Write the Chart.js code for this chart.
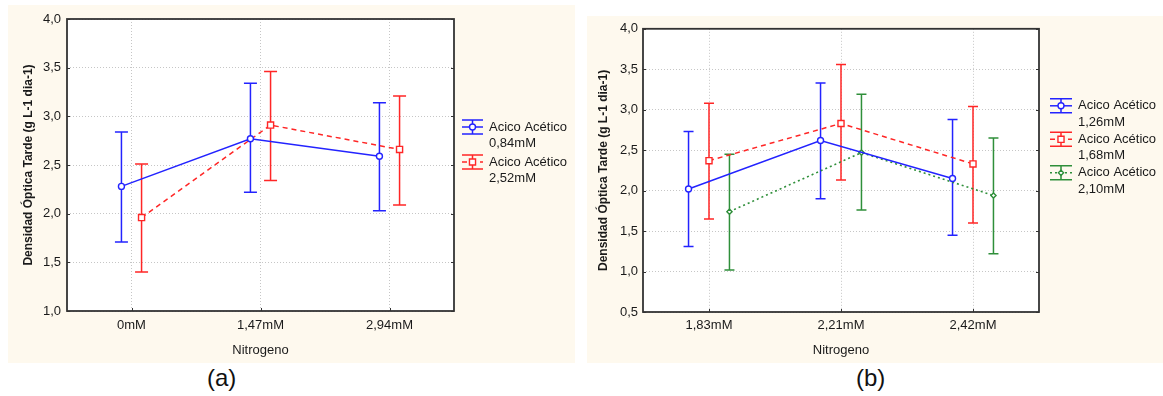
<!DOCTYPE html>
<html>
<head>
<meta charset="utf-8">
<script src="https://cdn.jsdelivr.net/npm/chart.js@4/dist/chart.umd.min.js"></script>
<style>
  body { margin: 0; background: #fff; width: 1163px; height: 396px; position: relative; overflow: hidden; font-family: "Liberation Sans", Arial, sans-serif; }
  .panel { position: absolute; background: #fef9ee; }
  .tag { position: absolute; font-size: 24px; color: #111; line-height: 28px; }
</style>
</head>
<body>
<div class="panel" style="left:8px;top:5px;width:567px;height:358px"><canvas id="chartA"></canvas></div>
<div class="panel" style="left:587px;top:16px;width:576px;height:347px"><canvas id="chartB"></canvas></div>
<div class="tag" style="left:207px;top:364px">(a)</div>
<div class="tag" style="left:856px;top:364px">(b)</div>
<script>
// panel (a)
var catsA = ['0mM', '1,47mM', '2,94mM'];
var labelA084 = ['Acico Acético', '0,84mM'];
var meanA084 = [2.28, 2.77, 2.59];
var lowA084 = [1.71, 2.22, 2.03];
var highA084 = [2.84, 3.34, 3.14];
var labelA252 = ['Acico Acético', '2,52mM'];
var meanA252 = [1.96, 2.91, 2.66];
var lowA252 = [1.40, 2.34, 2.09];
var highA252 = [2.51, 3.46, 3.21];

// panel (b)
var catsB = ['1,83mM', '2,21mM', '2,42mM'];
var labelB126 = ['Acico Acético', '1,26mM'];
var meanB126 = [2.02, 2.62, 2.15];
var lowB126 = [1.31, 1.90, 1.45];
var highB126 = [2.73, 3.33, 2.88];
var labelB168 = ['Acico Acético', '1,68mM'];
var meanB168 = [2.37, 2.83, 2.33];
var lowB168 = [1.65, 2.13, 1.60];
var highB168 = [3.08, 3.56, 3.04];
var labelB210 = ['Acico Acético', '2,10mM'];
var meanB210 = [1.74, 2.47, 1.94];
var lowB210 = [1.02, 1.76, 1.22];
var highB210 = [2.45, 3.19, 2.65];

var yTitle = 'Densidad Óptica Tarde (g L-1 dia-1)';
var xTitle = 'Nitrogeno';

var BLUE = '#2323ff', RED = '#ff2626', GREEN = '#2f8f3a';
var FONT = '"Liberation Sans", Arial, sans-serif';
Chart.defaults.font.family = FONT;
Chart.defaults.font.size = 13;
Chart.defaults.color = '#1a1a1a';

function comma(v) { return v.toFixed(1).replace('.', ','); }

// white plot background + dark frame with small inward ticks
var framePlugin = {
  id: 'frame',
  beforeDraw: function(chart) {
    var a = chart.chartArea, ctx = chart.ctx;
    ctx.save();
    ctx.fillStyle = '#fff';
    ctx.fillRect(a.left, a.top, a.right - a.left, a.bottom - a.top);
    ctx.restore();
  },
  afterDraw: function(chart) {
    var a = chart.chartArea, ctx = chart.ctx;
    ctx.save();
    ctx.strokeStyle = '#333';
    ctx.lineWidth = 1.8;
    ctx.strokeRect(a.left, a.top, a.right - a.left, a.bottom - a.top);
    ctx.lineWidth = 1;
    ctx.beginPath();
    chart.scales.y.ticks.forEach(function(t) {
      var y = Math.round(chart.scales.y.getPixelForValue(t.value)) + 0.5;
      ctx.moveTo(a.right - 3, y); ctx.lineTo(a.right, y);
      ctx.moveTo(a.left, y); ctx.lineTo(a.left + 3, y);
    });
    chart.scales.x.ticks.forEach(function(t) {
      var x = Math.round(chart.scales.x.getPixelForValue(t.value)) + 0.5;
      ctx.moveTo(x, a.bottom - 3); ctx.lineTo(x, a.bottom);
    });
    ctx.stroke();
    ctx.restore();
  }
};

// vertical error bars with caps, under the lines and markers
var errorBarPlugin = {
  id: 'errorBars',
  beforeDatasetsDraw: function(chart) {
    var ctx = chart.ctx, xs = chart.scales.x, ys = chart.scales.y;
    chart.data.datasets.forEach(function(ds) {
      var w = ds.capWidth / 2;
      ctx.save();
      ctx.strokeStyle = ds.borderColor;
      ctx.lineWidth = 1.5;
      ctx.beginPath();
      ds.data.forEach(function(p) {
        var x = xs.getPixelForValue(p.x);
        var y1 = ys.getPixelForValue(p.lo), y2 = ys.getPixelForValue(p.hi);
        ctx.moveTo(x, y1); ctx.lineTo(x, y2);
        ctx.moveTo(x - w, y1); ctx.lineTo(x + w, y1);
        ctx.moveTo(x - w, y2); ctx.lineTo(x + w, y2);
      });
      ctx.stroke();
      ctx.restore();
    });
  }
};

// legend to the right of the plot, statistica style symbols
var sideLegendPlugin = {
  id: 'sideLegend',
  afterDraw: function(chart, args, o) {
    var ctx = chart.ctx, a = chart.chartArea;
    chart.data.datasets.forEach(function(ds, i) {
      var cy = a.top + o.dy + i * o.entryGap;
      var cx = a.right + o.dx;
      var hw = o.symW / 2;
      ctx.save();
      ctx.strokeStyle = ds.borderColor;
      ctx.lineWidth = 1.5;
      ctx.beginPath();
      ctx.moveTo(cx - hw, cy - 7); ctx.lineTo(cx + hw, cy - 7);
      ctx.moveTo(cx - hw, cy + 7); ctx.lineTo(cx + hw, cy + 7);
      ctx.moveTo(cx, cy - 7); ctx.lineTo(cx, cy + 7);
      ctx.stroke();
      ctx.setLineDash(ds.borderDash || []);
      ctx.lineWidth = ds.borderWidth;
      ctx.beginPath();
      ctx.moveTo(cx - hw, cy); ctx.lineTo(cx + hw, cy);
      ctx.stroke();
      ctx.setLineDash([]);
      ctx.fillStyle = '#fff';
      ctx.lineWidth = 1.4;
      Chart.helpers.drawPoint(ctx, { pointStyle: ds.pointStyle, radius: ds.pointRadius, borderWidth: 1.4, rotation: 0 }, cx, cy);
      ctx.fillStyle = '#1a1a1a';
      ctx.font = o.fontSize + 'px ' + FONT;
      ctx.textBaseline = 'middle';
      ds.label.forEach(function(line, k) {
        ctx.fillText(line, a.right + o.textDx, cy + k * o.lineGap);
      });
      ctx.restore();
    });
  }
};

function series(label, mean, low, high, color, dash, style, radius, shift, cap) {
  return {
    label: label,
    data: mean.map(function(v, i) { return { x: i + shift, y: v, lo: low[i], hi: high[i] }; }),
    borderColor: color,
    backgroundColor: '#fff',
    borderWidth: style === 'rectRot' ? 1.6 : 1.5,
    borderDash: dash,
    pointStyle: style,
    pointRadius: radius,
    pointBorderWidth: 1.4,
    pointBackgroundColor: '#fff',
    capWidth: cap,
    tension: 0
  };
}

function makeChart(id, cats, datasets, cfg) {
  return new Chart(document.getElementById(id), {
    type: 'line',
    data: { datasets: datasets },
    plugins: [framePlugin, errorBarPlugin, sideLegendPlugin],
    options: {
      responsive: true,
      maintainAspectRatio: false,
      animation: false,
      layout: { padding: { left: 0, top: cfg.top, right: cfg.right, bottom: 0 } },
      plugins: {
        legend: { display: false },
        tooltip: { enabled: false },
        sideLegend: cfg.legend
      },
      scales: {
        x: {
          type: 'linear',
          min: -0.5,
          max: 2.5,
          afterBuildTicks: function(s) { s.ticks = cats.map(function(c, i) { return { value: i }; }); },
          afterFit: function(s) { s.height = cfg.xHeight; },
          ticks: { autoSkip: false, maxRotation: 0, padding: cfg.xPad, color: '#1a1a1a', callback: function(v) { return cats[v]; } },
          grid: { color: '#c6c6c6', drawTicks: false, lineWidth: 1 },
          border: { display: false, dash: [1, 2] },
          title: { display: true, text: xTitle, font: { size: 13 }, color: '#1a1a1a', padding: { top: 0, bottom: 5 } }
        },
        y: {
          min: cfg.yMin,
          max: 4,
          afterFit: function(s) { s.width = cfg.yWidth; },
          ticks: { stepSize: 0.5, padding: cfg.yPad, color: '#1a1a1a', callback: function(v) { return comma(v); } },
          grid: { color: '#c6c6c6', drawTicks: false, lineWidth: 1 },
          border: { display: false, dash: [1, 2] },
          title: { display: true, text: yTitle, font: { size: 12, weight: 'bold' }, color: '#1a1a1a', padding: { top: cfg.yTitlePad, bottom: 0 } }
        }
      }
    }
  });
}

makeChart('chartA', catsA, [
  series(labelA084, meanA084, lowA084, highA084, BLUE, [], 'circle', 3, -0.078, 13),
  series(labelA252, meanA252, lowA252, highA252, RED, [5, 4], 'rect', 4.3, 0.078, 13)
], {
  top: 14, right: 121, xHeight: 52, yWidth: 59, xPad: 7, yPad: 6, yTitlePad: 13, yMin: 1,
  legend: { dx: 18.5, dy: 108, symW: 21, textDx: 35, entryGap: 35, lineGap: 16, fontSize: 13 }
});

makeChart('chartB', catsB, [
  series(labelB126, meanB126, lowB126, highB126, BLUE, [], 'circle', 3, -0.155, 10),
  series(labelB168, meanB168, lowB168, highB168, RED, [5, 4], 'rect', 4.3, 0, 10),
  series(labelB210, meanB210, lowB210, highB210, GREEN, [2, 3], 'rectRot', 2.6, 0.155, 10)
], {
  top: 12, right: 124, xHeight: 51, yWidth: 56, xPad: 6, yPad: 5, yTitlePad: 9, yMin: 0.5,
  legend: { dx: 22, dy: 77, symW: 22, textDx: 39, entryGap: 33.5, lineGap: 16.5, fontSize: 13 }
});
</script>
</body>
</html>
